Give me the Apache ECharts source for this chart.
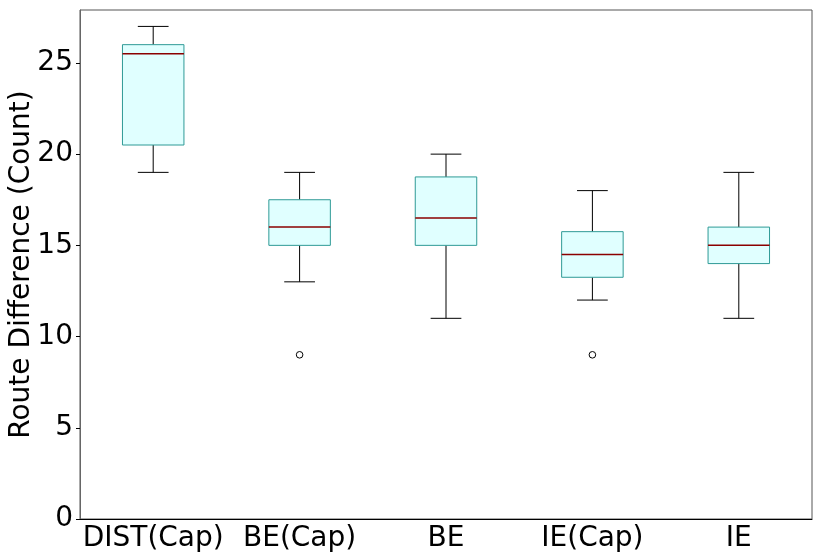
<!DOCTYPE html>
<html>
<head>
<meta charset="utf-8">
<script src="https://cdn.jsdelivr.net/npm/echarts@6/dist/echarts.min.js"></script>
<style>
  html, body { margin: 0; padding: 0; background: #fff; }
  #chart { width: 822px; height: 560px; }
</style>
</head>
<body>
<div id="chart"></div>
<script>
// categories on x
const categories = ["DIST(Cap)", "BE(Cap)", "BE", "IE(Cap)", "IE"];
// [whisker low, Q1, median, Q3, whisker high]
const boxStats = [
  [19, 20.5, 25.5, 26, 27],
  [13, 15, 16, 17.5, 19],
  [11, 15, 16.5, 18.75, 20],
  [12, 13.25, 14.5, 15.75, 18],
  [11, 14, 15, 16, 19]
];
// fliers: [category index, value]
const outliers = [
  [1, 9],
  [3, 9]
];
const yTicks = [0, 5, 10, 15, 20, 25];

const chart = echarts.init(document.getElementById("chart"));
const font = "DejaVu Sans";

const boxSeriesData = boxStats.map((s, i) => [i].concat(s));

function renderBox(params, api) {
  const i = api.value(0);
  const lo = api.coord([i, api.value(1)]);
  const q1 = api.coord([i, api.value(2)]);
  const med = api.coord([i, api.value(3)]);
  const q3 = api.coord([i, api.value(4)]);
  const hi = api.coord([i, api.value(5)]);
  const boxW = api.size([1, 0])[0] * 0.42;
  const capW = boxW / 2;
  const cx = lo[0];
  const black = { stroke: "#000", lineWidth: 1 };
  return {
    type: "group",
    children: [
      { type: "line", shape: { x1: cx, y1: lo[1], x2: cx, y2: q1[1] }, style: black },
      { type: "line", shape: { x1: cx, y1: q3[1], x2: cx, y2: hi[1] }, style: black },
      { type: "line", shape: { x1: cx - capW / 2, y1: lo[1], x2: cx + capW / 2, y2: lo[1] }, style: black },
      { type: "line", shape: { x1: cx - capW / 2, y1: hi[1], x2: cx + capW / 2, y2: hi[1] }, style: black },
      {
        type: "rect",
        shape: { x: cx - boxW / 2, y: q3[1], width: boxW, height: q1[1] - q3[1] },
        style: { fill: "#e0ffff", stroke: "#2e9a96", lineWidth: 1 }
      },
      {
        type: "line",
        shape: { x1: cx - boxW / 2, y1: med[1], x2: cx + boxW / 2, y2: med[1] },
        style: { stroke: "#8b0000", lineWidth: 1.5 }
      }
    ]
  };
}

function renderFlier(params, api) {
  const p = api.coord([api.value(0), api.value(1)]);
  return {
    type: "circle",
    shape: { cx: p[0], cy: p[1], r: 3.3 },
    style: { fill: "#fff", stroke: "#000", lineWidth: 1 }
  };
}

const option = {
  animation: false,
  grid: {
    left: 80, right: 10, top: 10, bottom: 41,
    outerBoundsMode: "none",
    containLabel: false,
    show: true, borderColor: "#555", borderWidth: 1, backgroundColor: "#fff"
  },
  xAxis: {
    type: "category",
    data: categories,
    boundaryGap: true,
    axisLine: { lineStyle: { color: "#000" } },
    axisTick: { alignWithLabel: true, length: 5, lineStyle: { color: "#000" } },
    axisLabel: { interval: 0, hideOverlap: false, color: "#000", fontFamily: font, fontSize: 28, margin: 6 },
    splitLine: { show: false }
  },
  yAxis: {
    type: "value",
    min: 0,
    max: 27.9,
    interval: 5,
    name: "Route Difference (Count)",
    nameLocation: "middle",
    nameGap: 44,
    nameMoveOverlap: false,
    nameTextStyle: { color: "#000", fontFamily: font, fontSize: 28 },
    axisLine: { show: true, lineStyle: { color: "#666" } },
    axisTick: { show: true, length: 4, lineStyle: { color: "#000" } },
    axisLabel: {
      color: "#000", fontFamily: font, fontSize: 28, margin: 7,
      showMaxLabel: false,
      formatter: v => (yTicks.indexOf(v) >= 0 ? String(v) : "")
    },
    splitLine: { show: false }
  },
  series: [
    {
      type: "custom",
      renderItem: renderBox,
      encode: { x: 0, y: [1, 2, 3, 4, 5] },
      data: boxSeriesData,
      z: 2
    },
    {
      type: "custom",
      renderItem: renderFlier,
      encode: { x: 0, y: 1 },
      data: outliers,
      z: 3
    }
  ]
};

chart.setOption(option);
</script>
</body>
</html>
